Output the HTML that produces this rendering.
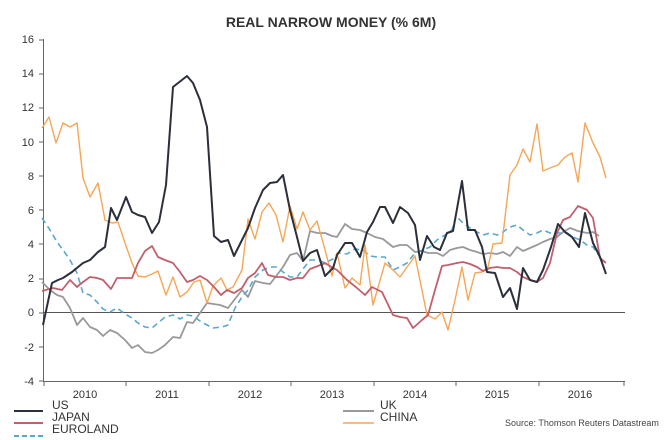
<!DOCTYPE html>
<html><head><meta charset="utf-8"><style>
body{margin:0;background:#fff}
svg{display:block;font-family:"Liberation Sans",sans-serif}
</style></head><body>
<svg width="667" height="440" viewBox="0 0 667 440">
<text x="331" y="27" text-anchor="middle" font-size="14" font-weight="bold" fill="#333">REAL NARROW MONEY (% 6M)</text>
<g font-size="11" fill="#333" text-anchor="end">
<text x="34" y="43">16</text><text x="34" y="77">14</text><text x="34" y="111">12</text><text x="34" y="146">10</text><text x="34" y="180">8</text><text x="34" y="214">6</text><text x="34" y="248">4</text><text x="34" y="282">2</text><text x="34" y="316">0</text><text x="34" y="351">-2</text><text x="34" y="385">-4</text>
</g>
<g stroke="#666" stroke-width="1">
<line x1="43.5" y1="39" x2="43.5" y2="381"/>
<line x1="43" y1="381.5" x2="625" y2="381.5"/>
<line x1="43" y1="312.5" x2="625" y2="312.5" stroke="#555"/>
<path id="tk" d="M43,40h-4M43,74h-4M43,108h-4M43,142h-4M43,176h-4M43,210h-4M43,244h-4M43,279h-4M43,313h-4M43,347h-4M43,381h-4"/>
<path d="M44,381v5M126,381v5M209,381v5M291,381v5M374,381v5M456,381v5M539,381v5M624,381v5"/>
</g>
<g stroke="#888" stroke-width="0.7" id="minor"></g>
<g font-size="11" fill="#333" text-anchor="middle">
<text x="85" y="398">2010</text><text x="167" y="398">2011</text><text x="250" y="398">2012</text><text x="332" y="398">2013</text><text x="415" y="398">2014</text><text x="497" y="398">2015</text><text x="580" y="398">2016</text>
</g>
<g fill="none" stroke-linejoin="round">
<polyline stroke="#999" stroke-width="1.8" points="42,282 50,290 57,295 63,297 70,308 77,325 83,318 90,327 97,330 103,336 110,330 117,333 125,340 132,348 138,345 145,352 152,353 158,350 165,345 173,337 180,338 187,322 193,323 200,313 207,303 220,305 228,308 235,299 242,290 248,297 255,281 263,283 270,284 277,275 283,267 290,255 297,253 303,261 310,231 317,233 325,233 332,236 337,237 345,224 352,229 360,230 367,233 375,237 383,239 393,247 400,245 407,245 415,252 422,251 428,253 437,253 443,256 450,250 457,248 463,247 470,250 477,252 483,254 490,253 497,254 503,252 510,256 517,247 523,251 530,248 537,245 543,242 550,239 557,237 563,232 570,228 578,231 587,233 593,232 599,236"/>
<polyline stroke="#5aa8cc" stroke-width="1.6" stroke-dasharray="6,4" points="42,218 50,230 57,242 63,250 70,260 77,273 83,293 90,295 97,302 103,309 110,312 117,308 125,314 132,318 138,323 145,327 152,328 158,323 165,317 173,315 180,319 187,315 193,316 200,321 207,325 213,328 222,327 228,325 235,308 242,297 248,290 255,277 263,270 270,267 277,267 283,272 290,277 297,277 303,269 310,260 318,260 325,263 333,259 338,253 347,254 355,249 363,250 370,256 377,257 385,257 393,270 400,267 407,263 415,253 423,250 430,247 437,240 445,235 452,230 456,216 463,223 470,228 477,232 483,235 490,233 497,235 503,232 510,227 517,225 523,230 530,235 537,233 543,230 550,233 560,233 567,233 573,237 580,240 587,245 593,247 600,257"/>
<polyline stroke="#f5a656" stroke-width="1.4" points="42,128 49,117 56,143 63,123 70,127 77,123 83,178 90,197 98,183 105,220 112,223 118,222 125,243 132,263 138,276 145,277 152,274 158,271 166,295 173,277 180,297 187,292 194,282 200,280 207,303 213,286 221,278 227,290 233,287 242,270 248,219 255,239 262,212 269,203 276,215 283,242 290,206 297,229 303,212 310,230 317,221 325,250 332,276 337,253 345,288 352,278 360,285 365,245 373,305 385,263 393,270 400,277 415,256 427,315 435,319 442,312 448,330 455,300 462,267 468,300 475,273 482,272 488,267 493,244 502,243 510,175 517,165 523,149 530,162 537,124 543,171 550,168 558,165 565,157 572,153 578,182 585,123 593,143 600,157 606,178"/>
<polyline stroke="#c0606e" stroke-width="1.8" points="42,291 53,288 62,290 70,280 77,287 83,282 90,277 97,278 103,280 111,289 117,278 125,278 132,278 138,263 145,251 152,246 158,257 165,260 173,263 180,272 187,282 193,280 200,276 207,280 214,287 221,295 227,290 234,293 242,288 248,278 255,273 262,263 268,275 276,277 283,277 290,280 297,278 303,278 310,269 318,266 325,263 333,268 337,270 347,280 357,288 365,295 372,287 382,292 393,315 400,317 407,318 413,328 422,320 428,315 435,290 442,266 448,265 457,263 463,262 470,264 477,267 483,271 490,268 497,267 503,268 510,268 517,272 523,277 530,280 537,282 543,278 550,263 557,233 563,220 570,217 578,206 587,210 593,218 600,258 606,263"/>
<polyline stroke="#2a2f3a" stroke-width="2" points="43,325 52,283 58,280 63,278 72,272 83,263 90,260 98,252 105,247 111,208 117,220 126,197 132,212 138,215 145,217 152,233 159,222 166,185 173,87 187,76 193,83 200,100 207,127 214,236 221,242 228,240 234,256 241,242 248,228 255,208 263,190 270,183 277,182 283,175 290,210 297,237 303,261 310,253 317,250 325,276 333,268 337,255 345,243 352,243 360,257 367,232 373,222 380,207 385,207 393,223 400,207 408,213 415,225 420,260 427,236 434,247 440,250 447,233 453,231 462,181 468,230 475,230 482,247 487,272 495,273 503,297 510,288 517,309 523,268 530,280 537,282 543,270 551,247 558,224 565,232 572,237 579,247 585,213 593,243 600,257 606,274"/>
</g>
<g stroke-width="2">
<line x1="14" y1="411" x2="43" y2="411" stroke="#2a2f3a"/>
<line x1="14" y1="423" x2="43" y2="423" stroke="#c0606e"/>
<line x1="14" y1="436" x2="43" y2="436" stroke="#5aa8cc" stroke-dasharray="5,3"/>
<line x1="343" y1="411" x2="374" y2="411" stroke="#999"/>
<line x1="343" y1="423" x2="374" y2="423" stroke="#f5a656" stroke-width="1.4"/>
</g>
<g font-size="12" fill="#333">
<text x="52" y="409">US</text><text x="52" y="421">JAPAN</text><text x="52" y="433">EUROLAND</text>
<text x="380" y="409">UK</text><text x="380" y="421">CHINA</text>
</g>
<text x="505" y="426" font-size="9" fill="#444">Source: Thomson Reuters Datastream</text>
<script>
var g=document.getElementById('minor'),s='';
for(var i=0;i<=50;i++){var y=39+i*6.84;s+='<line x1="43" x2="46" y1="'+y+'" y2="'+y+'"/>';}
g.innerHTML=s;
</script>
</svg>
</body></html>
